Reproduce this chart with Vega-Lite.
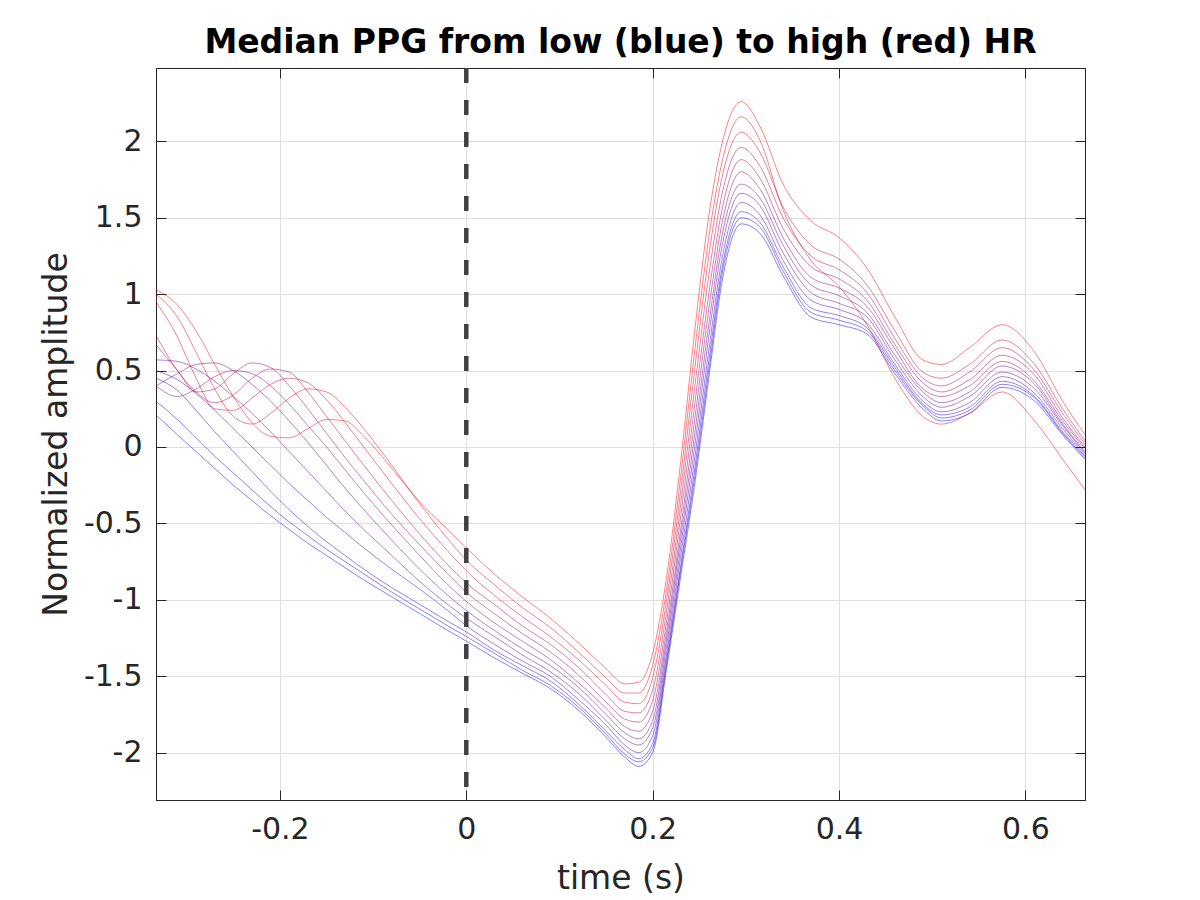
{
  "$schema": "https://vega.github.io/schema/vega-lite/v6.json",
  "width": 929,
  "height": 732,
  "autosize": "none",
  "padding": {"left": 156, "top": 68, "right": 115, "bottom": 100},
  "background": "white",
  "config": {
    "font": "DejaVu Sans",
    "view": {"stroke": "#262626", "strokeWidth": 1},
    "axis": {
      "labelFont": "DejaVu Sans", "titleFont": "DejaVu Sans",
      "labelFontSize": 30, "titleFontSize": 33, "titleFontWeight": "normal",
      "labelColor": "#262626", "titleColor": "#262626",
      "domainColor": "#262626", "tickColor": "#262626",
      "tickSize": -10, "labelPadding": 24,
      "gridColor": "#dfdfdf", "gridWidth": 1
    }
  },
  "title": {
    "text": "Median PPG from low (blue) to high (red) HR",
    "font": "DejaVu Sans", "fontSize": 33, "fontWeight": "bold", "color": "black",
    "anchor": "middle", "baseline": "alphabetic", "offset": 13, "dy": 33
  },
  "layer": [
    {
      "data": {"values": [
        {"x": -0.333, "k01": 0.21, "k02": 0.30, "k03": 0.45, "k04": 0.50, "k05": 0.57, "k06": 0.40, "k07": 0.40, "k08": 0.67, "k09": 0.73, "k10": 0.95, "k11": 1.00, "k12": 1.03},
        {"x": -0.31, "k01": 0.08, "k02": 0.18, "k03": 0.37, "k04": 0.44, "k05": 0.56, "k06": 0.48, "k07": 0.33, "k08": 0.50, "k09": 0.50, "k10": 0.72, "k11": 0.85, "k12": 0.93},
        {"x": -0.29, "k01": -0.03, "k02": 0.06, "k03": 0.24, "k04": 0.35, "k05": 0.51, "k06": 0.54, "k07": 0.38, "k08": 0.36, "k09": 0.36, "k10": 0.45, "k11": 0.62, "k12": 0.76},
        {"x": -0.27, "k01": -0.14, "k02": -0.06, "k03": 0.10, "k04": 0.24, "k05": 0.43, "k06": 0.55, "k07": 0.46, "k08": 0.38, "k09": 0.29, "k10": 0.25, "k11": 0.38, "k12": 0.54},
        {"x": -0.25, "k01": -0.25, "k02": -0.17, "k03": -0.03, "k04": 0.12, "k05": 0.33, "k06": 0.50, "k07": 0.50, "k08": 0.48, "k09": 0.34, "k10": 0.24, "k11": 0.20, "k12": 0.33},
        {"x": -0.23, "k01": -0.35, "k02": -0.28, "k03": -0.16, "k04": 0.00, "k05": 0.22, "k06": 0.41, "k07": 0.48, "k08": 0.55, "k09": 0.45, "k10": 0.32, "k11": 0.15, "k12": 0.16},
        {"x": -0.21, "k01": -0.45, "k02": -0.39, "k03": -0.29, "k04": -0.12, "k05": 0.10, "k06": 0.30, "k07": 0.40, "k08": 0.52, "k09": 0.51, "k10": 0.41, "k11": 0.22, "k12": 0.07},
        {"x": -0.19, "k01": -0.54, "k02": -0.49, "k03": -0.41, "k04": -0.24, "k05": -0.03, "k06": 0.17, "k07": 0.28, "k08": 0.40, "k09": 0.49, "k10": 0.45, "k11": 0.32, "k12": 0.06},
        {"x": -0.17, "k01": -0.63, "k02": -0.58, "k03": -0.52, "k04": -0.35, "k05": -0.16, "k06": 0.03, "k07": 0.14, "k08": 0.25, "k09": 0.36, "k10": 0.42, "k11": 0.38, "k12": 0.12},
        {"x": -0.15, "k01": -0.71, "k02": -0.67, "k03": -0.62, "k04": -0.46, "k05": -0.29, "k06": -0.12, "k07": 0.00, "k08": 0.09, "k09": 0.20, "k10": 0.31, "k11": 0.36, "k12": 0.18},
        {"x": -0.13, "k01": -0.79, "k02": -0.75, "k03": -0.71, "k04": -0.56, "k05": -0.42, "k06": -0.27, "k07": -0.15, "k08": -0.07, "k09": 0.04, "k10": 0.16, "k11": 0.26, "k12": 0.17},
        {"x": -0.11, "k01": -0.87, "k02": -0.83, "k03": -0.80, "k04": -0.66, "k05": -0.54, "k06": -0.41, "k07": -0.30, "k08": -0.22, "k09": -0.12, "k10": 0.00, "k11": 0.12, "k12": 0.07},
        {"x": -0.08, "k01": -0.98, "k02": -0.95, "k03": -0.92, "k04": -0.80, "k05": -0.71, "k06": -0.61, "k07": -0.51, "k08": -0.44, "k09": -0.35, "k10": -0.24, "k11": -0.12, "k12": -0.14},
        {"x": -0.05, "k01": -1.09, "k02": -1.06, "k03": -1.03, "k04": -0.93, "k05": -0.88, "k06": -0.80, "k07": -0.71, "k08": -0.64, "k09": -0.57, "k10": -0.47, "k11": -0.37, "k12": -0.36},
        {"x": -0.02, "k01": -1.20, "k02": -1.17, "k03": -1.14, "k04": -1.07, "k05": -1.03, "k06": -0.97, "k07": -0.90, "k08": -0.83, "k09": -0.77, "k10": -0.68, "k11": -0.60, "k12": -0.54},
        {"x": 0, "k01": -1.27, "k02": -1.24, "k03": -1.21, "k04": -1.17, "k05": -1.12, "k06": -1.07, "k07": -1.01, "k08": -0.95, "k09": -0.89, "k10": -0.81, "k11": -0.74, "k12": -0.66},
        {"x": 0.03, "k01": -1.38, "k02": -1.35, "k03": -1.33, "k04": -1.29, "k05": -1.24, "k06": -1.20, "k07": -1.15, "k08": -1.09, "k09": -1.03, "k10": -0.97, "k11": -0.90, "k12": -0.83},
        {"x": 0.06, "k01": -1.48, "k02": -1.46, "k03": -1.43, "k04": -1.40, "k05": -1.36, "k06": -1.32, "k07": -1.27, "k08": -1.22, "k09": -1.17, "k10": -1.11, "k11": -1.05, "k12": -0.98},
        {"x": 0.09, "k01": -1.58, "k02": -1.56, "k03": -1.53, "k04": -1.50, "k05": -1.47, "k06": -1.43, "k07": -1.39, "k08": -1.34, "k09": -1.29, "k10": -1.24, "k11": -1.18, "k12": -1.12},
        {"x": 0.12, "k01": -1.72, "k02": -1.70, "k03": -1.68, "k04": -1.65, "k05": -1.61, "k06": -1.57, "k07": -1.54, "k08": -1.49, "k09": -1.44, "k10": -1.39, "k11": -1.34, "k12": -1.28},
        {"x": 0.15, "k01": -1.90, "k02": -1.88, "k03": -1.86, "k04": -1.82, "k05": -1.79, "k06": -1.75, "k07": -1.71, "k08": -1.67, "k09": -1.62, "k10": -1.56, "k11": -1.51, "k12": -1.45},
        {"x": 0.17, "k01": -2.03, "k02": -2.01, "k03": -1.98, "k04": -1.95, "k05": -1.91, "k06": -1.87, "k07": -1.83, "k08": -1.78, "k09": -1.73, "k10": -1.67, "k11": -1.61, "k12": -1.55},
        {"x": 0.185, "k01": -2.09, "k02": -2.06, "k03": -2.04, "k04": -2.00, "k05": -1.95, "k06": -1.91, "k07": -1.86, "k08": -1.80, "k09": -1.74, "k10": -1.68, "k11": -1.61, "k12": -1.54},
        {"x": 0.2, "k01": -2.00, "k02": -1.97, "k03": -1.94, "k04": -1.89, "k05": -1.84, "k06": -1.79, "k07": -1.73, "k08": -1.66, "k09": -1.59, "k10": -1.51, "k11": -1.43, "k12": -1.35},
        {"x": 0.215, "k01": -1.45, "k02": -1.42, "k03": -1.39, "k04": -1.35, "k05": -1.30, "k06": -1.25, "k07": -1.20, "k08": -1.14, "k09": -1.07, "k10": -1.00, "k11": -0.93, "k12": -0.85},
        {"x": 0.23, "k01": -0.85, "k02": -0.81, "k03": -0.78, "k04": -0.72, "k05": -0.66, "k06": -0.60, "k07": -0.54, "k08": -0.46, "k09": -0.38, "k10": -0.29, "k11": -0.20, "k12": -0.10},
        {"x": 0.245, "k01": -0.25, "k02": -0.20, "k03": -0.15, "k04": -0.08, "k05": 0.00, "k06": 0.08, "k07": 0.17, "k08": 0.27, "k09": 0.38, "k10": 0.50, "k11": 0.62, "k12": 0.75},
        {"x": 0.26, "k01": 0.44, "k02": 0.49, "k03": 0.55, "k04": 0.62, "k05": 0.71, "k06": 0.79, "k07": 0.89, "k08": 0.99, "k09": 1.11, "k10": 1.24, "k11": 1.36, "k12": 1.50},
        {"x": 0.275, "k01": 1.10, "k02": 1.15, "k03": 1.19, "k04": 1.25, "k05": 1.33, "k06": 1.40, "k07": 1.48, "k08": 1.57, "k09": 1.67, "k10": 1.78, "k11": 1.88, "k12": 2.00},
        {"x": 0.295, "k01": 1.46, "k02": 1.50, "k03": 1.54, "k04": 1.60, "k05": 1.66, "k06": 1.72, "k07": 1.80, "k08": 1.88, "k09": 1.96, "k10": 2.06, "k11": 2.16, "k12": 2.26},
        {"x": 0.315, "k01": 1.40, "k02": 1.44, "k03": 1.47, "k04": 1.52, "k05": 1.58, "k06": 1.63, "k07": 1.69, "k08": 1.76, "k09": 1.84, "k10": 1.93, "k11": 2.01, "k12": 2.10},
        {"x": 0.34, "k01": 1.12, "k02": 1.15, "k03": 1.18, "k04": 1.22, "k05": 1.27, "k06": 1.32, "k07": 1.37, "k08": 1.43, "k09": 1.50, "k10": 1.57, "k11": 1.55, "k12": 1.72},
        {"x": 0.37, "k01": 0.85, "k02": 0.88, "k03": 0.91, "k04": 0.96, "k05": 1.01, "k06": 1.06, "k07": 1.11, "k08": 1.18, "k09": 1.25, "k10": 1.32, "k11": 1.22, "k12": 1.48},
        {"x": 0.4, "k01": 0.80, "k02": 0.83, "k03": 0.86, "k04": 0.90, "k05": 0.94, "k06": 0.99, "k07": 1.04, "k08": 1.10, "k09": 1.16, "k10": 1.23, "k11": 1.05, "k12": 1.37},
        {"x": 0.43, "k01": 0.74, "k02": 0.76, "k03": 0.78, "k04": 0.81, "k05": 0.85, "k06": 0.88, "k07": 0.92, "k08": 0.96, "k09": 1.01, "k10": 1.06, "k11": 0.80, "k12": 1.17},
        {"x": 0.46, "k01": 0.48, "k02": 0.50, "k03": 0.52, "k04": 0.54, "k05": 0.57, "k06": 0.60, "k07": 0.64, "k08": 0.67, "k09": 0.71, "k10": 0.76, "k11": 0.45, "k12": 0.85},
        {"x": 0.49, "k01": 0.25, "k02": 0.27, "k03": 0.28, "k04": 0.30, "k05": 0.33, "k06": 0.36, "k07": 0.38, "k08": 0.42, "k09": 0.45, "k10": 0.49, "k11": 0.20, "k12": 0.57},
        {"x": 0.51, "k01": 0.17, "k02": 0.19, "k03": 0.21, "k04": 0.23, "k05": 0.26, "k06": 0.29, "k07": 0.33, "k08": 0.36, "k09": 0.40, "k10": 0.45, "k11": 0.15, "k12": 0.54},
        {"x": 0.54, "k01": 0.22, "k02": 0.24, "k03": 0.26, "k04": 0.29, "k05": 0.33, "k06": 0.36, "k07": 0.40, "k08": 0.44, "k09": 0.49, "k10": 0.54, "k11": 0.22, "k12": 0.65},
        {"x": 0.575, "k01": 0.39, "k02": 0.41, "k03": 0.43, "k04": 0.46, "k05": 0.49, "k06": 0.53, "k07": 0.56, "k08": 0.60, "k09": 0.65, "k10": 0.70, "k11": 0.36, "k12": 0.80},
        {"x": 0.61, "k01": 0.30, "k02": 0.32, "k03": 0.33, "k04": 0.35, "k05": 0.38, "k06": 0.41, "k07": 0.43, "k08": 0.47, "k09": 0.50, "k10": 0.54, "k11": 0.17, "k12": 0.62},
        {"x": 0.64, "k01": 0.08, "k02": 0.09, "k03": 0.10, "k04": 0.12, "k05": 0.14, "k06": 0.15, "k07": 0.17, "k08": 0.19, "k09": 0.22, "k10": 0.25, "k11": -0.08, "k12": 0.30},
        {"x": 0.664, "k01": -0.08, "k02": -0.07, "k03": -0.06, "k04": -0.05, "k05": -0.04, "k06": -0.03, "k07": -0.01, "k08": 0.00, "k09": 0.02, "k10": 0.04, "k11": -0.28, "k12": 0.08}
      ]},
      "transform": [
        {"fold": ["k01", "k02", "k03", "k04", "k05", "k06", "k07", "k08", "k09", "k10", "k11", "k12"], "as": ["curve", "y"]}
      ],
      "mark": {"type": "line", "interpolate": "monotone", "strokeWidth": 0.9, "opacity": 0.55, "clip": true},
      "encoding": {
        "x": {
          "field": "x", "type": "quantitative",
          "scale": {"domain": [-0.333, 0.664], "nice": false, "zero": false},
          "axis": {
            "orient": "bottom", "values": [-0.2, 0, 0.2, 0.4, 0.6], "labelExpr": "'' + datum.value",
            "title": "time (s)", "grid": true, "titleBaseline": "alphabetic", "titleY": 88
          }
        },
        "y": {
          "field": "y", "type": "quantitative",
          "scale": {"domain": [-2.31, 2.48], "nice": false, "zero": false},
          "axis": {
            "orient": "left", "values": [-2, -1.5, -1, -0.5, 0, 0.5, 1, 1.5, 2], "labelExpr": "'' + datum.value",
            "title": "Normalized amplitude", "grid": true, "titleBaseline": "alphabetic", "titleX": -90
          }
        },
        "color": {
          "field": "curve", "type": "nominal", "legend": null,
          "scale": {
            "domain": ["k01", "k02", "k03", "k04", "k05", "k06", "k07", "k08", "k09", "k10", "k11", "k12"],
            "range": ["#0000ff", "#1700e8", "#2e00d1", "#4600b9", "#5d00a2", "#74008b", "#8b0074", "#a2005d", "#b90046", "#d1002e", "#e80017", "#ff0000"]
          }
        }
      }
    },
    {
      "data": {"values": [{"x": 0}]},
      "mark": {"type": "rule", "color": "#404040", "strokeWidth": 4.5, "strokeDash": [15, 17]},
      "encoding": {
        "x": {"field": "x", "type": "quantitative", "scale": {"domain": [-0.333, 0.664], "nice": false, "zero": false}, "axis": null}
      }
    },
    {
      "data": {"values": [{"x": 0, "y": 0}]},
      "mark": {"type": "point", "opacity": 0},
      "encoding": {
        "x": {
          "field": "x", "type": "quantitative",
          "scale": {"domain": [-0.333, 0.664], "nice": false, "zero": false},
          "axis": {"orient": "top", "values": [-0.2, 0, 0.2, 0.4, 0.6], "labels": false, "title": null, "grid": false}
        },
        "y": {
          "field": "y", "type": "quantitative",
          "scale": {"domain": [-2.31, 2.48], "nice": false, "zero": false},
          "axis": {"orient": "right", "values": [-2, -1.5, -1, -0.5, 0, 0.5, 1, 1.5, 2], "labels": false, "title": null, "grid": false}
        }
      }
    }
  ],
  "resolve": {"axis": {"x": "independent", "y": "independent"}}
}
